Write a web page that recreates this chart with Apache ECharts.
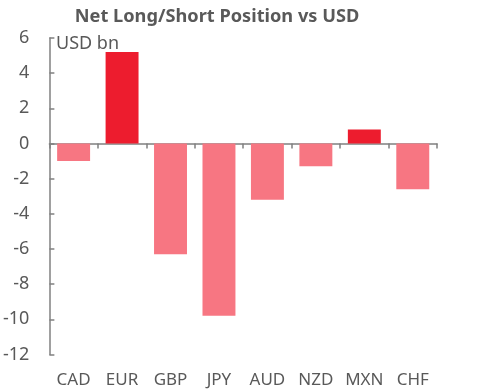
<!DOCTYPE html>
<html><head><meta charset="utf-8">
<script src="https://cdn.jsdelivr.net/npm/echarts@6/dist/echarts.min.js"></script>
<style>html,body{margin:0;padding:0;background:#fff}#c{width:498px;height:391px}</style>
</head><body><div id="c"></div>
<script>
const categories = ['CAD','EUR','GBP','JPY','AUD','NZD','MXN','CHF'];
const positions = [-1.0, 5.2, -6.3, -9.8, -3.2, -1.3, 0.8, -2.6];
const yTicks = {min:-12, max:6, interval:2};
const FONT = 'Noto Sans';
const TXT = '#595959';
const chart = echarts.init(document.getElementById('c'), null, {renderer:'canvas'});
chart.setOption({
  animation:false,
  graphic:[
    {type:'text', x:217, y:17, z:100, style:{text:'Net Long/Short Position vs USD', x:0, y:0, align:'center', verticalAlign:'middle', fontFamily:FONT, fontSize:18.2, fontWeight:'bold', fill:TXT}},
    {type:'text', left:56, top:35, z:100, style:{text:'USD bn', fontFamily:FONT, fontSize:18, fill:TXT}}],
  grid:{left:48, right:61, top:38, bottom:36.5},
  xAxis:[{type:'category', data:categories,
    axisLine:{onZero:true, lineStyle:{color:'#808080', width:1.5}},
    axisTick:{show:true, length:5, lineStyle:{color:'#808080', width:1.5}},
    axisLabel:{show:false}},
   {type:'category', data:categories, position:'bottom',
    axisLine:{show:false, onZero:false}, axisTick:{show:false},
    axisLabel:{interval:0, hideOverlap:false, margin:17, fontFamily:FONT, fontSize:17, color:TXT}}],
  yAxis:{type:'value', min:yTicks.min, max:yTicks.max, interval:yTicks.interval,
    axisLine:{show:true, lineStyle:{color:'#808080', width:1.5}},
    axisTick:{show:true, inside:true, length:5, lineStyle:{color:'#808080', width:1.5}},
    splitLine:{show:false},
    axisLabel:{margin:20, fontFamily:FONT, fontSize:18, color:TXT}},
  series:[{type:'bar', data:positions, barCategoryGap:'32%',
    itemStyle:{color:p => p.value >= 0 ? '#ED1C2E' : '#F77682'}}]
});
</script></body></html>
